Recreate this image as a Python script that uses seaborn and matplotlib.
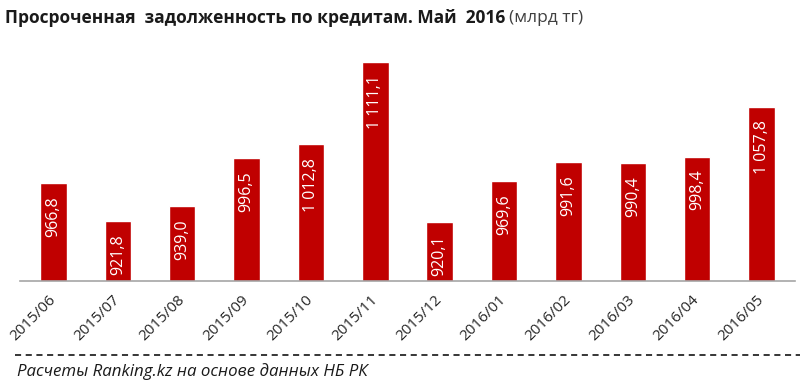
import matplotlib
matplotlib.use("Agg")
import matplotlib.pyplot as plt
import seaborn as sns
import pandas as pd

months = ["2015/06", "2015/07", "2015/08", "2015/09", "2015/10", "2015/11",
          "2015/12", "2016/01", "2016/02", "2016/03", "2016/04", "2016/05"]
overdue = [966.8, 921.8, 939.0, 996.5, 1012.8, 1111.1,
           920.1, 969.6, 991.6, 990.4, 998.4, 1057.8]

title_main = "Просроченная  задолженность по кредитам. Май  2016"
title_unit = "(млрд тг)"
source = "Расчеты Ranking.kz на основе данных НБ РК"

sns.set_theme(style="white")
plt.rcParams["font.family"] = ["Open Sans", "DejaVu Sans"]

df = pd.DataFrame({"month": months, "value": overdue})


def fmt(v):
    s = f"{v:,.1f}"
    return s.replace(",", " ").replace(".", ",")


fig = plt.figure(figsize=(8, 3.89), dpi=100)
ax = fig.add_axes([0.025, 108 / 389, 0.96875, (281 - 50) / 389])

sns.barplot(data=df, x="month", y="value", color="#C00000", saturation=1,
            width=0.41, ax=ax)

ax.set_ylim(850, 1125.5)
ax.set_xlim(-0.52, 11.52)

for i, v in enumerate(overdue):
    ax.annotate(fmt(v), (i, v), xytext=(0, -9.5), textcoords="offset points",
                rotation=90, ha="center", va="top", color="white", fontsize=11.5)

for s in ["top", "right", "left"]:
    ax.spines[s].set_visible(False)
ax.spines["bottom"].set_color("#a6a6a6")
ax.spines["bottom"].set_linewidth(1.2)
ax.set_yticks([])
ax.set_xlabel("")
ax.set_ylabel("")
ax.tick_params(axis="x", length=0, pad=12, colors="#262626", labelsize=11)
plt.setp(ax.get_xticklabels(), rotation=45, ha="right", va="center",
         rotation_mode="anchor")

t = fig.text(0.006, 0.953, title_main, fontsize=12.5, fontweight="bold",
             color="#1a1a1a", va="center")
fig.canvas.draw()
bb = t.get_window_extent()
fig.text(bb.x1 / fig.bbox.width + 0.005, 0.953, title_unit, fontsize=12.5,
         color="#404040", va="center")

fig.add_artist(plt.Line2D([0.019, 1.0], [1 - 355 / 389, 1 - 355 / 389],
                          color="black", lw=1.1, ls=(0, (4, 3))))
fig.text(0.021, 1 - 372 / 389, source, fontsize=12.2, style="italic",
         color="#1a1a1a", va="center")

fig.savefig("out.png", dpi=100, facecolor="white")
